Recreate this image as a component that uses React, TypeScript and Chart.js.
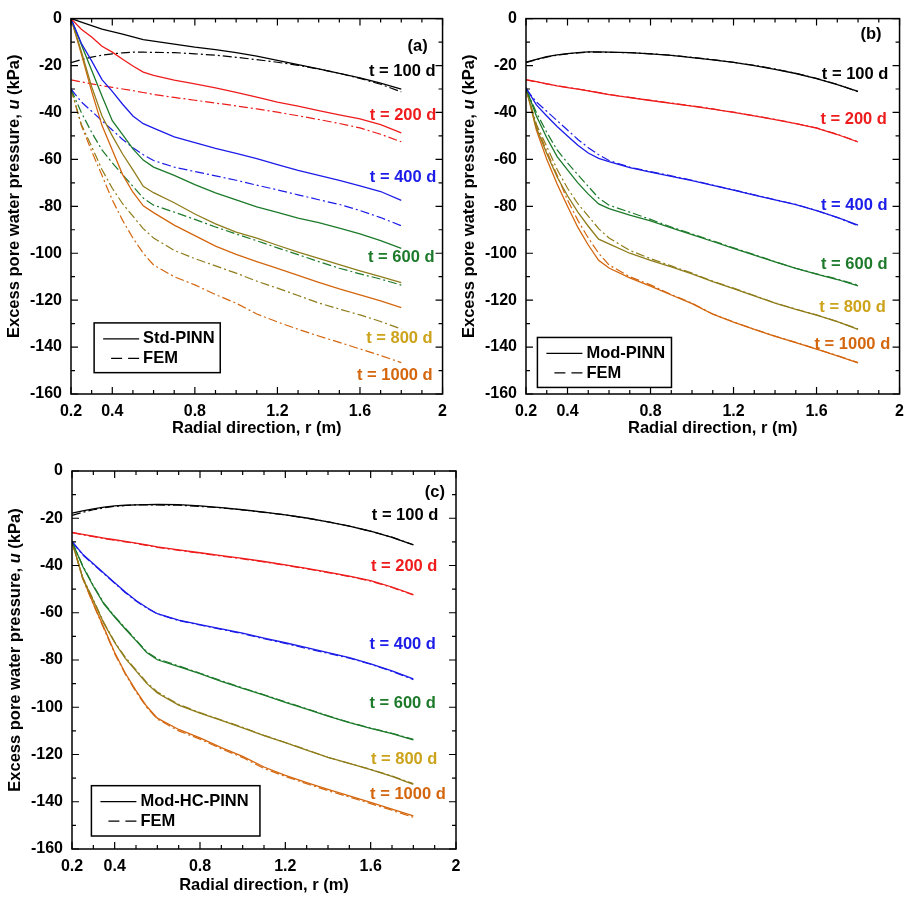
import React, { useEffect, useRef } from 'react';
import { Chart, registerables } from 'chart.js';

Chart.register(...registerables);

// Radial positions (m) shared by every profile
const R_NODES = [0.2, 0.25, 0.3, 0.35, 0.4, 0.45, 0.5, 0.55, 0.6, 0.7, 0.8, 0.9, 1.0, 1.1, 1.2, 1.3, 1.4, 1.5, 1.6, 1.7, 1.8];

// FEM reference solution, u (kPa)
const FEM_100 = [-18.8, -17.5, -16.4, -15.6, -15.0, -14.6, -14.3, -14.3, -14.4, -14.5, -15.0, -15.6, -16.5, -17.5, -18.6, -19.9, -21.5, -23.3, -25.5, -28.0, -31.2];
const FEM_200 = [-26.1, -27.0, -27.8, -28.6, -29.3, -30.0, -30.7, -31.5, -32.3, -33.6, -34.8, -36.0, -37.2, -38.5, -39.9, -41.4, -43.0, -44.7, -46.6, -49.3, -52.5];
const FEM_400 = [-30.0, -35.5, -39.5, -43.5, -47.5, -51.5, -55.0, -58.0, -60.5, -63.3, -65.2, -67.0, -68.9, -71.0, -73.0, -75.1, -77.2, -79.2, -81.8, -84.8, -88.3];
const FEM_600 = [-30.0, -40.0, -48.5, -56.0, -61.5, -66.5, -71.5, -76.5, -79.5, -82.5, -85.6, -88.8, -91.8, -94.7, -97.7, -100.6, -103.6, -106.4, -108.8, -111.0, -113.6];
const FEM_800 = [-30.0, -45.0, -54.5, -64.3, -72.3, -78.9, -84.2, -89.5, -93.5, -98.8, -102.3, -105.4, -108.5, -111.9, -114.9, -118.0, -121.2, -123.8, -126.3, -129.1, -132.3];
const FEM_1000 = [-30.0, -45.5, -56.5, -66.8, -77.3, -86.0, -93.5, -100.0, -105.0, -110.0, -113.5, -117.6, -121.3, -125.9, -129.3, -132.4, -135.3, -138.0, -140.8, -143.6, -146.6];

// Std-PINN prediction
const STD_100 = [0, -1.5, -3.0, -4.5, -5.6, -6.6, -7.8, -9.0, -9.6, -10.9, -12.2, -13.2, -14.5, -16.0, -17.8, -19.6, -21.4, -23.3, -25.3, -27.5, -30.1];
const STD_200 = [0, -4.5, -7.8, -11.8, -14.3, -17.3, -20.2, -22.8, -24.2, -26.2, -27.8, -29.5, -31.4, -33.5, -35.6, -37.3, -39.2, -41.0, -42.7, -45.2, -48.7];
const STD_400 = [0, -10.5, -18.0, -26.0, -31.0, -36.5, -41.5, -44.8, -46.7, -50.4, -52.9, -55.3, -57.4, -59.7, -62.2, -64.7, -66.8, -69.0, -71.3, -73.7, -77.5];
const STD_600 = [0, -11.0, -22.0, -33.0, -43.5, -49.5, -55.5, -60.3, -63.3, -66.8, -70.8, -74.3, -77.3, -80.2, -82.6, -85.0, -87.0, -89.3, -91.8, -94.6, -97.9];
const STD_800 = [0, -14.0, -29.0, -41.5, -50.0, -57.7, -64.5, -71.5, -74.2, -78.5, -83.3, -87.5, -91.0, -93.6, -96.6, -99.5, -102.2, -104.9, -107.5, -110.0, -112.5];
const STD_1000 = [0, -15.0, -31.0, -45.5, -56.0, -66.5, -74.0, -79.8, -82.7, -88.0, -92.5, -97.0, -100.5, -103.6, -106.5, -109.4, -112.4, -115.2, -117.7, -120.3, -123.2];

// Mod-PINN prediction
const MOD_100 = [-18.6, -17.4, -16.2, -15.5, -14.9, -14.5, -14.2, -14.2, -14.3, -14.5, -15.0, -15.7, -16.6, -17.6, -18.7, -20.0, -21.6, -23.4, -25.6, -28.1, -31.0];
const MOD_200 = [-26.0, -26.9, -27.8, -28.7, -29.4, -30.1, -30.8, -31.6, -32.4, -33.7, -34.9, -36.1, -37.3, -38.6, -40.0, -41.5, -43.1, -44.8, -46.7, -49.4, -52.6];
const MOD_400 = [-29.5, -36.8, -41.5, -46.0, -50.0, -54.0, -57.3, -59.6, -61.0, -63.5, -65.4, -67.2, -69.1, -71.1, -73.1, -75.2, -77.3, -79.3, -81.8, -84.7, -88.0];
const MOD_600 = [-29.5, -41.5, -50.8, -58.8, -64.5, -70.0, -74.8, -79.0, -81.0, -83.8, -86.2, -89.2, -92.1, -95.0, -97.9, -100.8, -103.7, -106.5, -108.9, -111.2, -113.9];
const MOD_800 = [-29.5, -46.5, -57.5, -67.5, -75.5, -82.5, -88.5, -94.0, -96.0, -100.0, -103.0, -105.8, -108.8, -112.1, -115.1, -118.2, -121.3, -123.9, -126.4, -129.2, -132.5];
const MOD_1000 = [-29.5, -47.5, -60.0, -70.5, -80.0, -89.0, -96.5, -103.0, -106.3, -110.5, -114.0, -117.8, -121.5, -126.0, -129.4, -132.5, -135.4, -138.1, -140.9, -143.7, -146.7];

// Mod-HC-PINN prediction
const HC_100 = [-17.8, -16.9, -16.0, -15.3, -14.8, -14.5, -14.3, -14.2, -14.1, -14.2, -14.8, -15.5, -16.4, -17.4, -18.6, -19.9, -21.5, -23.3, -25.5, -28.1, -31.3];
const HC_200 = [-26.0, -26.8, -27.6, -28.4, -29.1, -29.8, -30.5, -31.3, -32.1, -33.4, -34.6, -35.8, -37.0, -38.3, -39.7, -41.2, -42.8, -44.5, -46.4, -49.1, -52.3];
const HC_400 = [-29.8, -35.2, -39.3, -43.3, -47.3, -51.2, -54.8, -57.8, -60.4, -63.1, -65.0, -66.8, -68.6, -70.7, -72.7, -74.8, -76.9, -79.0, -81.6, -84.6, -88.0];
const HC_600 = [-29.8, -40.3, -48.8, -56.3, -61.8, -66.9, -71.8, -76.8, -79.9, -82.8, -85.8, -89.0, -92.0, -94.9, -97.9, -100.8, -103.8, -106.5, -108.9, -111.2, -113.8];
const HC_800 = [-29.8, -45.3, -54.8, -64.6, -72.6, -79.3, -84.6, -89.9, -94.0, -99.1, -102.5, -105.6, -108.7, -112.0, -115.0, -118.1, -121.2, -123.8, -126.4, -129.3, -132.6];
const HC_1000 = [-29.8, -45.2, -56.2, -66.4, -76.8, -85.6, -93.0, -99.6, -104.6, -109.4, -113.0, -117.1, -120.8, -125.3, -128.8, -131.9, -134.8, -137.5, -140.3, -143.1, -146.0];

const TIME_LABELS = ['t = 100 d', 't = 200 d', 't = 400 d', 't = 600 d', 't = 800 d', 't = 1000 d'];
const X_TICKS = [0.2, 0.4, 0.8, 1.2, 1.6, 2];

const LINE_COLORS = ['#000000', '#ee1c1c', '#1c1ce8', '#1d7a2b', '#8f7d1b', '#d4660e'];
const TEXT_COLORS = ['#000000', '#ee1c1c', '#1c1ce8', '#1d7a2b', '#cca31a', '#d4660e'];

const FEM_SERIES = [FEM_100, FEM_200, FEM_400, FEM_600, FEM_800, FEM_1000];

const FONT = "'Liberation Sans', Arial, Helvetica, sans-serif";

type PanelSpec = {
  tag: string;
  modelName: string;
  model: number[][];
  left: number;
  top: number;
  width: number;
  height: number;
  yAxisWidth: number;
  xAxisHeight: number;
  padTop: number;
  padRight: number;
  xTitleGap: number;
  tagAt: [number, number];
  labelAt: [number, number][];
  legendAt: [number, number, number, number];
};

const PANELS: PanelSpec[] = [
  {
    tag: '(a)',
    modelName: 'Std-PINN',
    model: [STD_100, STD_200, STD_400, STD_600, STD_800, STD_1000],
    left: 0, top: 0, width: 455, height: 440,
    yAxisWidth: 71, xAxisHeight: 46, padTop: 15, padRight: 10, xTitleGap: 34,
    tagAt: [1.928, -11.8],
    labelAt: [[1.966, -22.4], [1.97, -41.4], [1.97, -67.9], [1.961, -101.7], [1.952, -136.3], [1.952, -151.9]],
    legendAt: [0.312, -129.7, 0.923, -150.9],
  },
  {
    tag: '(b)',
    modelName: 'Mod-PINN',
    model: [MOD_100, MOD_200, MOD_400, MOD_600, MOD_800, MOD_1000],
    left: 455, top: 0, width: 457, height: 440,
    yAxisWidth: 71, xAxisHeight: 46, padTop: 15, padRight: 11, xTitleGap: 34,
    tagAt: [1.913, -6.75],
    labelAt: [[1.946, -23.8], [1.939, -42.8], [1.942, -79.6], [1.942, -104.9], [1.934, -122.9], [1.955, -138.7]],
    legendAt: [0.255, -135.9, 0.901, -157.2],
  },
  {
    tag: '(c)',
    modelName: 'Mod-HC-PINN',
    model: [HC_100, HC_200, HC_400, HC_600, HC_800, HC_1000],
    left: 0, top: 440, width: 470, height: 460,
    yAxisWidth: 72, xAxisHeight: 51, padTop: 31, padRight: 14, xTitleGap: 36,
    tagAt: [1.948, -9.0],
    labelAt: [[1.917, -18.9], [1.913, -40.2], [1.906, -73.6], [1.906, -98.5], [1.913, -122.2], [1.952, -137.0]],
    legendAt: [0.291, -133.2, 1.081, -154.5],
  },
];

const toPoints = (ys: number[]) => R_NODES.map((x, i) => ({ x, y: ys[i] }));

function makeDecorPlugin(spec: PanelSpec) {
  return {
    id: 'panelDecor',
    afterDraw(chart: any) {
      const { ctx, chartArea: a, scales } = chart;
      const xs = scales.x;
      const ys = scales.y;
      ctx.save();

      // frame
      ctx.strokeStyle = '#000';
      ctx.lineWidth = 1.5;
      ctx.strokeRect(a.left, a.top, a.right - a.left, a.bottom - a.top);

      // inward ticks on all four sides
      ctx.lineWidth = 1.2;
      ctx.beginPath();
      for (let k = 2; k <= 20; k++) {
        const v = k / 10;
        const px = xs.getPixelForValue(v);
        const major = X_TICKS.some((t) => Math.abs(t - v) < 1e-6);
        const len = major ? 7 : 4;
        ctx.moveTo(px, a.bottom);
        ctx.lineTo(px, a.bottom - len);
        ctx.moveTo(px, a.top);
        ctx.lineTo(px, a.top + len);
      }
      for (let v = -160; v <= 0; v += 10) {
        const py = ys.getPixelForValue(v);
        const len = v % 20 === 0 ? 7 : 4;
        ctx.moveTo(a.left, py);
        ctx.lineTo(a.left + len, py);
        ctx.moveTo(a.right, py);
        ctx.lineTo(a.right - len, py);
      }
      ctx.stroke();

      // axis titles
      ctx.fillStyle = '#000';
      ctx.font = `bold 16.5px ${FONT}`;
      ctx.textAlign = 'center';
      ctx.textBaseline = 'middle';
      ctx.fillText('Radial direction, r (m)', (a.left + a.right) / 2, a.bottom + spec.xTitleGap);

      const parts: [string, string][] = [
        ['Excess pore water pressure, ', `bold 16.5px ${FONT}`],
        ['u', `italic bold 16.5px ${FONT}`],
        [' (kPa)', `bold 16.5px ${FONT}`],
      ];
      let total = 0;
      const widths = parts.map(([t, f]) => {
        ctx.font = f;
        const w = ctx.measureText(t).width;
        total += w;
        return w;
      });
      ctx.save();
      ctx.translate(a.left - 57, (a.top + a.bottom) / 2 - 10);
      ctx.rotate(-Math.PI / 2);
      ctx.textAlign = 'left';
      let cx = -total / 2;
      parts.forEach(([t, f], i) => {
        ctx.font = f;
        ctx.fillText(t, cx, 0);
        cx += widths[i];
      });
      ctx.restore();

      // panel tag and time labels
      ctx.font = `bold 16.5px ${FONT}`;
      ctx.textAlign = 'right';
      ctx.textBaseline = 'middle';
      ctx.fillStyle = '#000';
      ctx.fillText(spec.tag, xs.getPixelForValue(spec.tagAt[0]), ys.getPixelForValue(spec.tagAt[1]));
      TIME_LABELS.forEach((label, i) => {
        ctx.fillStyle = TEXT_COLORS[i];
        const [lr, lu] = spec.labelAt[i];
        ctx.fillText(label, xs.getPixelForValue(lr), ys.getPixelForValue(lu));
      });

      // legend box
      const [r0, u0, r1, u1] = spec.legendAt;
      const bx = xs.getPixelForValue(r0);
      const by = ys.getPixelForValue(u0);
      const bw = xs.getPixelForValue(r1) - bx;
      const bh = ys.getPixelForValue(u1) - by;
      ctx.fillStyle = '#fff';
      ctx.fillRect(bx, by, bw, bh);
      ctx.strokeStyle = '#000';
      ctx.lineWidth = 1.5;
      ctx.strokeRect(bx, by, bw, bh);

      ctx.lineWidth = 1.3;
      ctx.beginPath();
      ctx.moveTo(bx + 9, by + 16);
      ctx.lineTo(bx + 45, by + 16);
      ctx.stroke();
      ctx.setLineDash([11, 6]);
      ctx.beginPath();
      ctx.moveTo(bx + 17, by + 35.5);
      ctx.lineTo(bx + 45, by + 35.5);
      ctx.stroke();
      ctx.setLineDash([]);

      ctx.fillStyle = '#000';
      ctx.textAlign = 'left';
      ctx.font = `bold 16.5px ${FONT}`;
      ctx.fillText(spec.modelName, bx + 49, by + 16);
      ctx.fillText('FEM', bx + 49, by + 35.5);

      ctx.restore();
    },
  };
}

function Panel({ spec }: { spec: PanelSpec }) {
  const ref = useRef<HTMLCanvasElement | null>(null);

  useEffect(() => {
    if (!ref.current) return;
    const datasets: any[] = [];
    spec.model.forEach((ys, i) => {
      datasets.push({
        label: `${spec.modelName} ${TIME_LABELS[i]}`,
        data: toPoints(ys),
        borderColor: LINE_COLORS[i],
        borderWidth: 1.3,
        pointRadius: 0,
        tension: 0,
        fill: false,
      });
    });
    FEM_SERIES.forEach((ys, i) => {
      datasets.push({
        label: `FEM ${TIME_LABELS[i]}`,
        data: toPoints(ys),
        borderColor: LINE_COLORS[i],
        borderWidth: 1.2,
        borderDash: [9, 3, 2, 3],
        pointRadius: 0,
        tension: 0,
        fill: false,
      });
    });

    const tickFont = { family: FONT, size: 16, weight: 'bold' as const };

    const chart = new Chart(ref.current, {
      type: 'line',
      data: { datasets },
      options: {
        responsive: false,
        animation: false,
        devicePixelRatio: 1,
        layout: { padding: { left: 0, top: spec.padTop, right: spec.padRight, bottom: 0 } },
        plugins: { legend: { display: false }, tooltip: { enabled: false }, title: { display: false } },
        scales: {
          x: {
            type: 'linear',
            min: 0.2,
            max: 2,
            grid: { display: false, drawTicks: false },
            border: { display: false },
            afterBuildTicks: (axis: any) => {
              axis.ticks = X_TICKS.map((value) => ({ value }));
            },
            afterFit: (axis: any) => {
              axis.height = spec.xAxisHeight;
            },
            ticks: {
              color: '#000',
              font: tickFont,
              padding: 8,
              maxRotation: 0,
              autoSkip: false,
              callback: (v: any) => String(Number(Number(v).toFixed(1))),
            },
          },
          y: {
            type: 'linear',
            min: -160,
            max: 0,
            grid: { display: false, drawTicks: false },
            border: { display: false },
            afterFit: (axis: any) => {
              axis.width = spec.yAxisWidth;
            },
            ticks: {
              color: '#000',
              font: tickFont,
              padding: 9,
              stepSize: 20,
              callback: (v: any) => String(v),
            },
          },
        },
      },
      plugins: [makeDecorPlugin(spec)],
    });

    return () => chart.destroy();
  }, [spec]);

  return (
    <canvas
      ref={ref}
      width={spec.width}
      height={spec.height}
      style={{ position: 'absolute', left: spec.left, top: spec.top, width: spec.width, height: spec.height }}
    />
  );
}

export default function App() {
  return (
    <div style={{ position: 'absolute', left: 0, top: 0, width: 912, height: 900, background: '#fff' }}>
      {PANELS.map((p) => (
        <Panel key={p.tag} spec={p} />
      ))}
    </div>
  );
}
